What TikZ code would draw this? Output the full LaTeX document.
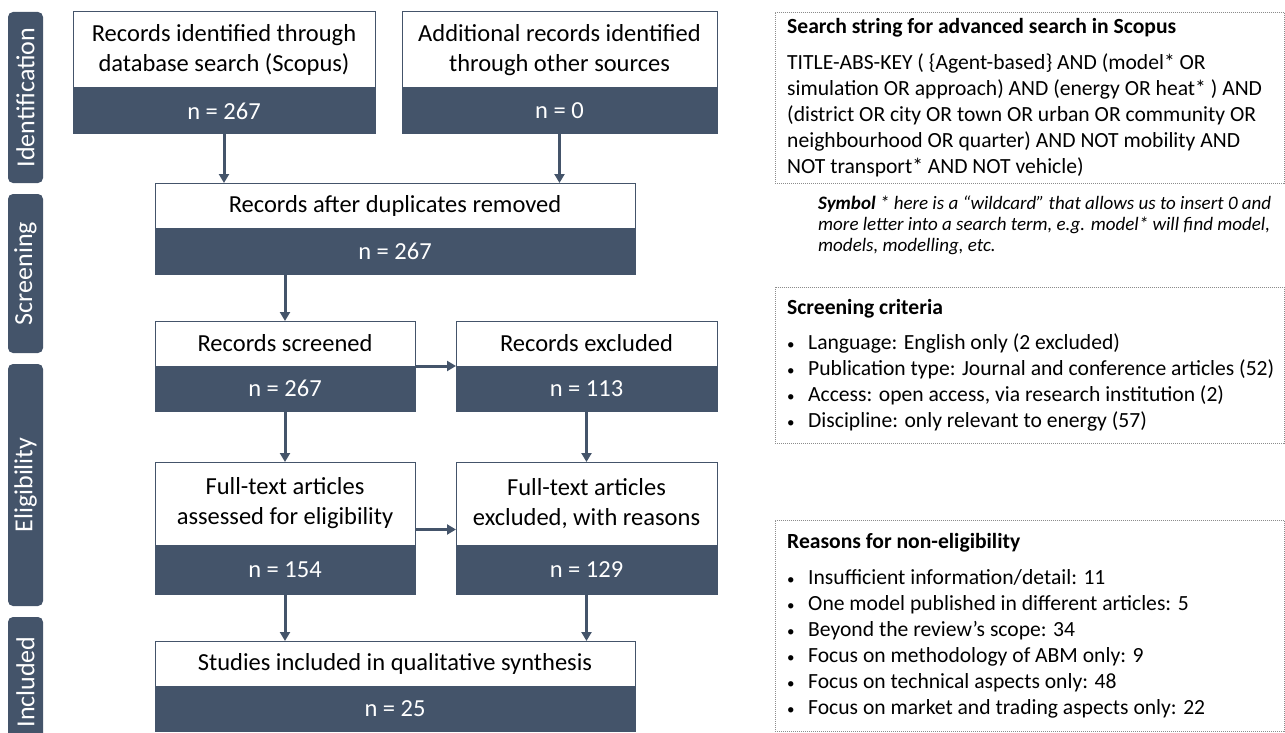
\documentclass[tikz,border=0pt]{standalone}
\usepackage{fontspec}
\setmainfont{Carlito}
\usetikzlibrary{arrows.meta}
\definecolor{slate}{HTML}{44546A}
\definecolor{dotgray}{HTML}{8C8C8C}
\newcommand{\prismabox}[8]{%
  \node[toppart, minimum width=#4pt, minimum height=#5pt, anchor=north] (#1) at (#2,#3) {#7};
  \node[countpart, minimum width=#4pt, minimum height=#6pt, anchor=north] (#1n) at (#1.south) {n = #8};}
\newcommand{\itm}{\makebox[21pt][l]{\fontsize{15}{15}\selectfont\textbullet}}

\begin{document}
\begin{tikzpicture}[x=1pt, y=-1pt,
    toppart/.style={draw=slate, line width=1pt, fill=white, inner sep=0pt, outer sep=0pt, align=center, font=\fontsize{24.5}{30}\selectfont},
    countpart/.style={draw=slate, line width=1pt, fill=slate, text=white, inner sep=0pt, outer sep=0pt, font=\fontsize{24.5}{30}\selectfont},
    phase/.style={rotate=90, fill=slate, text=white, rounded corners=5pt, minimum height=35pt, inner sep=0pt, font=\fontsize{26}{30}\selectfont},
    flow/.style={draw=slate, line width=3pt, -{Triangle[width=10pt,length=9pt]}},
    notebox/.style={draw=dotgray, line width=0.8pt, dash pattern=on 1pt off 1pt, inner sep=0pt, anchor=north west},
    notetext/.style={anchor=west, align=left, inner sep=0pt, font=\fontsize{21.6}{26}\selectfont}]
                \useasboundingbox (0,0) rectangle (1285,733);

                \node[phase, minimum width=171pt] (idph) at (25.5,97.5) {Identification};
                \node[phase, minimum width=159pt] (scph) at (25.5,273.5) {Screening};
                \node[phase, minimum width=242pt] (elph) at (25.5,485) {Eligibility};
                \node[phase, minimum width=130pt] (inph) at (25.5,682) {Included};

                \prismabox{idb}{224}{12}{302}{76}{46}{Records identified through\\database search (Scopus)}{267}
                \prismabox{ido}{559.5}{12}{315}{76}{46}{Additional records identified\\through other sources}{0}
                \prismabox{dup}{395}{183}{480}{45}{46}{Records after duplicates removed}{267}
                \prismabox{scr}{285}{321}{260}{45}{45}{Records screened}{267}
                \prismabox{exc}{586.5}{321}{261}{45}{45}{Records excluded}{113}
                \prismabox{ful}{285}{462}{260}{83}{49}{Full-text articles\\assessed for eligibility}{154}
                \prismabox{fex}{586.5}{462}{261}{83}{49}{Full-text articles\\excluded, with reasons}{129}
                \prismabox{inc}{395}{641}{480}{45}{45}{Studies included in qualitative synthesis}{25}

                \draw[flow] (idbn.south) -- (idbn.south |- dup.north);
                \draw[flow] (idon.south) -- (idon.south |- dup.north);
                \draw[flow] (scr.north |- dupn.south) -- (scr.north);
                \draw[flow] (scr.south east) -- (exc.south west);
                \draw[flow] (scrn.south) -- (ful.north);
                \draw[flow] (excn.south) -- (fex.north);
                \draw[flow] ([yshift=-26pt]ful.east) -- ([yshift=-26pt]fex.west);
                \draw[flow] (fuln.south) -- (fuln.south |- inc.north);
                \draw[flow] (fexn.south) -- (fexn.south |- inc.north);

                \node[notebox, minimum width=509pt, minimum height=171pt] (srchbox) at (775,12) {};
                \node[notetext] (srchtxt) at ([xshift=12pt]srchbox.west) {\textbf{Search string for advanced search in Scopus}\\[10pt]
                    TITLE-ABS-KEY ( \{Agent-based\} AND (model* OR\\
                    simulation OR approach) AND (energy OR heat* ) AND\\
                    (district OR city OR town OR urban OR community OR\\
                    neighbourhood OR quarter) AND NOT mobility AND\\
                    NOT transport* AND NOT vehicle)};
                \node[anchor=north west, align=left, inner sep=0pt, font=\itshape\fontsize{19}{21}\selectfont] (srchnote) at (818,196) {\textbf{Symbol} * here is a “wildcard” that allows us to insert 0 and\\
                    more letter into a search term, e.g. model* will find model,\\
                    models, modelling, etc.};

                \node[notebox, minimum width=509pt, minimum height=156pt] (critbox) at (775,287) {};
                \node[notetext] (crittxt) at ([xshift=12pt]critbox.west) {\textbf{Screening criteria}\\[9pt]
                    \itm Language: English only (2 excluded)\\
                    \itm Publication type: Journal and conference articles (52)\\
                    \itm Access: open access, via research institution (2)\\
                    \itm Discipline: only relevant to energy (57)};

                \node[notebox, minimum width=509pt, minimum height=211pt] (reasbox) at (775,520) {};
                \node[notetext] (reastxt) at ([xshift=12pt]reasbox.west) {\textbf{Reasons for non-eligibility}\\[10pt]
                    \itm Insufficient information/detail: 11\\
                    \itm One model published in different articles: 5\\
                    \itm Beyond the review’s scope: 34\\
                    \itm Focus on methodology of ABM only: 9\\
                    \itm Focus on technical aspects only: 48\\
                    \itm Focus on market and trading aspects only: 22};
            \end{tikzpicture}
\end{document}
